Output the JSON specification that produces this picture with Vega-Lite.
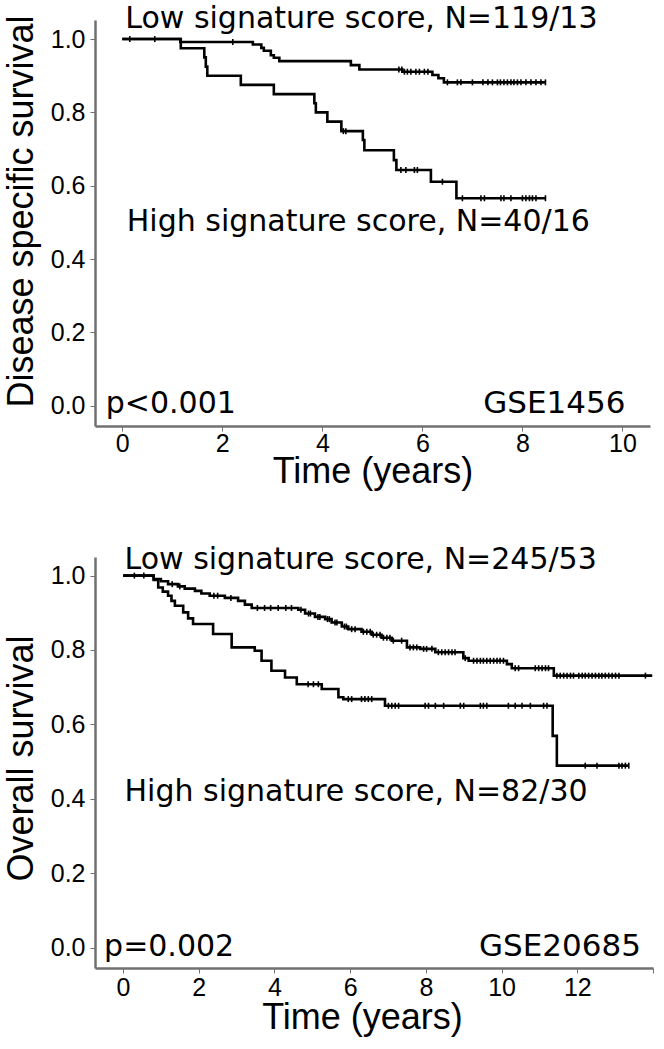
{
  "$schema": "https://vega.github.io/schema/vega-lite/v6.json",
  "background": "white",
  "padding": {"left": 3, "top": 4, "right": 5, "bottom": 5},
  "spacing": 56,
  "datasets": {
    "gse1456_curves": [
      {"group": "Low", "time": 0, "surv": 1.0},
      {"group": "Low", "time": 1.16, "surv": 0.992},
      {"group": "Low", "time": 2.61, "surv": 0.985},
      {"group": "Low", "time": 2.78, "surv": 0.976},
      {"group": "Low", "time": 2.83, "surv": 0.968},
      {"group": "Low", "time": 2.97, "surv": 0.956},
      {"group": "Low", "time": 3.03, "surv": 0.949},
      {"group": "Low", "time": 3.14, "surv": 0.94},
      {"group": "Low", "time": 4.57, "surv": 0.929},
      {"group": "Low", "time": 4.74, "surv": 0.917},
      {"group": "Low", "time": 5.6, "surv": 0.911},
      {"group": "Low", "time": 6.2, "surv": 0.902},
      {"group": "Low", "time": 6.32, "surv": 0.893},
      {"group": "Low", "time": 6.43, "surv": 0.882},
      {"group": "Low", "time": 8.46, "surv": 0.882},
      {"group": "High", "time": 0, "surv": 1.0},
      {"group": "High", "time": 1.17, "surv": 0.975},
      {"group": "High", "time": 1.64, "surv": 0.95},
      {"group": "High", "time": 1.67, "surv": 0.925},
      {"group": "High", "time": 1.7, "surv": 0.9},
      {"group": "High", "time": 2.37, "surv": 0.875},
      {"group": "High", "time": 3.03, "surv": 0.85},
      {"group": "High", "time": 3.84, "surv": 0.825},
      {"group": "High", "time": 3.87, "surv": 0.8},
      {"group": "High", "time": 4.1, "surv": 0.775},
      {"group": "High", "time": 4.38, "surv": 0.749},
      {"group": "High", "time": 4.81, "surv": 0.725},
      {"group": "High", "time": 4.84, "surv": 0.697},
      {"group": "High", "time": 5.43, "surv": 0.67},
      {"group": "High", "time": 5.48, "surv": 0.643},
      {"group": "High", "time": 6.17, "surv": 0.611},
      {"group": "High", "time": 6.68, "surv": 0.566},
      {"group": "High", "time": 8.46, "surv": 0.566}
    ],
    "gse1456_censored": [
      {"group": "Low", "time": 0.15, "surv": 1.0},
      {"group": "Low", "time": 0.65, "surv": 1.0},
      {"group": "Low", "time": 2.21, "surv": 0.992},
      {"group": "Low", "time": 5.53, "surv": 0.917},
      {"group": "Low", "time": 5.59, "surv": 0.917},
      {"group": "Low", "time": 5.64, "surv": 0.911},
      {"group": "Low", "time": 5.7, "surv": 0.911},
      {"group": "Low", "time": 5.77, "surv": 0.911},
      {"group": "Low", "time": 5.87, "surv": 0.911},
      {"group": "Low", "time": 5.94, "surv": 0.911},
      {"group": "Low", "time": 6.04, "surv": 0.911},
      {"group": "Low", "time": 6.11, "surv": 0.911},
      {"group": "Low", "time": 6.5, "surv": 0.882},
      {"group": "Low", "time": 6.7, "surv": 0.882},
      {"group": "Low", "time": 6.77, "surv": 0.882},
      {"group": "Low", "time": 7.0, "surv": 0.882},
      {"group": "Low", "time": 7.21, "surv": 0.882},
      {"group": "Low", "time": 7.31, "surv": 0.882},
      {"group": "Low", "time": 7.4, "surv": 0.882},
      {"group": "Low", "time": 7.5, "surv": 0.882},
      {"group": "Low", "time": 7.56, "surv": 0.882},
      {"group": "Low", "time": 7.63, "surv": 0.882},
      {"group": "Low", "time": 7.7, "surv": 0.882},
      {"group": "Low", "time": 7.77, "surv": 0.882},
      {"group": "Low", "time": 7.83, "surv": 0.882},
      {"group": "Low", "time": 7.9, "surv": 0.882},
      {"group": "Low", "time": 7.97, "surv": 0.882},
      {"group": "Low", "time": 8.07, "surv": 0.882},
      {"group": "Low", "time": 8.17, "surv": 0.882},
      {"group": "Low", "time": 8.27, "surv": 0.882},
      {"group": "Low", "time": 8.37, "surv": 0.882},
      {"group": "Low", "time": 8.46, "surv": 0.882},
      {"group": "High", "time": 4.42, "surv": 0.749},
      {"group": "High", "time": 4.47, "surv": 0.749},
      {"group": "High", "time": 5.57, "surv": 0.643},
      {"group": "High", "time": 5.67, "surv": 0.643},
      {"group": "High", "time": 5.84, "surv": 0.643},
      {"group": "High", "time": 5.9, "surv": 0.643},
      {"group": "High", "time": 6.4, "surv": 0.611},
      {"group": "High", "time": 6.8, "surv": 0.566},
      {"group": "High", "time": 7.17, "surv": 0.566},
      {"group": "High", "time": 7.24, "surv": 0.566},
      {"group": "High", "time": 7.57, "surv": 0.566},
      {"group": "High", "time": 7.63, "surv": 0.566},
      {"group": "High", "time": 7.77, "surv": 0.566},
      {"group": "High", "time": 8.0, "surv": 0.566},
      {"group": "High", "time": 8.07, "surv": 0.566},
      {"group": "High", "time": 8.14, "surv": 0.566},
      {"group": "High", "time": 8.2, "surv": 0.566},
      {"group": "High", "time": 8.27, "surv": 0.566},
      {"group": "High", "time": 8.46, "surv": 0.566}
    ],
    "gse20685_curves": [
      {"group": "Low", "time": 0, "surv": 1.0},
      {"group": "Low", "time": 0.81, "surv": 0.991},
      {"group": "Low", "time": 1.0, "surv": 0.985},
      {"group": "Low", "time": 1.19, "surv": 0.977},
      {"group": "Low", "time": 1.45, "surv": 0.971},
      {"group": "Low", "time": 1.63, "surv": 0.965},
      {"group": "Low", "time": 1.9, "surv": 0.959},
      {"group": "Low", "time": 2.07, "surv": 0.952},
      {"group": "Low", "time": 2.29, "surv": 0.946},
      {"group": "Low", "time": 2.69, "surv": 0.94},
      {"group": "Low", "time": 3.04, "surv": 0.932},
      {"group": "Low", "time": 3.22, "surv": 0.922},
      {"group": "Low", "time": 3.4, "surv": 0.913},
      {"group": "Low", "time": 4.63, "surv": 0.908},
      {"group": "Low", "time": 4.81, "surv": 0.898},
      {"group": "Low", "time": 5.07, "surv": 0.889},
      {"group": "Low", "time": 5.34, "surv": 0.883},
      {"group": "Low", "time": 5.51, "surv": 0.874},
      {"group": "Low", "time": 5.78, "surv": 0.863},
      {"group": "Low", "time": 5.95, "surv": 0.856},
      {"group": "Low", "time": 6.3, "surv": 0.849},
      {"group": "Low", "time": 6.57, "surv": 0.841},
      {"group": "Low", "time": 6.83, "surv": 0.833},
      {"group": "Low", "time": 7.1, "surv": 0.825},
      {"group": "Low", "time": 7.5, "surv": 0.807},
      {"group": "Low", "time": 7.85, "surv": 0.803},
      {"group": "Low", "time": 8.25, "surv": 0.794},
      {"group": "Low", "time": 8.99, "surv": 0.778},
      {"group": "Low", "time": 9.13, "surv": 0.771},
      {"group": "Low", "time": 10.14, "surv": 0.762},
      {"group": "Low", "time": 10.27, "surv": 0.751},
      {"group": "Low", "time": 11.38, "surv": 0.731},
      {"group": "Low", "time": 13.98, "surv": 0.731},
      {"group": "High", "time": 0, "surv": 1.0},
      {"group": "High", "time": 0.81, "surv": 0.988},
      {"group": "High", "time": 0.93, "surv": 0.968},
      {"group": "High", "time": 1.05, "surv": 0.957},
      {"group": "High", "time": 1.19, "surv": 0.946},
      {"group": "High", "time": 1.28, "surv": 0.932},
      {"group": "High", "time": 1.37, "surv": 0.919},
      {"group": "High", "time": 1.59, "surv": 0.901},
      {"group": "High", "time": 1.72, "surv": 0.885},
      {"group": "High", "time": 1.85, "surv": 0.87},
      {"group": "High", "time": 2.38, "surv": 0.843},
      {"group": "High", "time": 2.87, "surv": 0.807},
      {"group": "High", "time": 3.48, "surv": 0.798},
      {"group": "High", "time": 3.66, "surv": 0.771},
      {"group": "High", "time": 3.92, "surv": 0.744},
      {"group": "High", "time": 4.28, "surv": 0.726},
      {"group": "High", "time": 4.59, "surv": 0.708},
      {"group": "High", "time": 5.25, "surv": 0.695},
      {"group": "High", "time": 5.69, "surv": 0.673},
      {"group": "High", "time": 5.82, "surv": 0.668},
      {"group": "High", "time": 6.92, "surv": 0.65},
      {"group": "High", "time": 11.35, "surv": 0.569},
      {"group": "High", "time": 11.46, "surv": 0.489},
      {"group": "High", "time": 13.36, "surv": 0.489}
    ],
    "gse20685_censored": [
      {"group": "Low", "time": 0.3, "surv": 1.0},
      {"group": "Low", "time": 0.55, "surv": 1.0},
      {"group": "Low", "time": 1.3, "surv": 0.977},
      {"group": "Low", "time": 1.5, "surv": 0.971},
      {"group": "Low", "time": 2.4, "surv": 0.946},
      {"group": "Low", "time": 2.5, "surv": 0.946},
      {"group": "Low", "time": 2.85, "surv": 0.94},
      {"group": "Low", "time": 3.55, "surv": 0.913},
      {"group": "Low", "time": 3.74, "surv": 0.913},
      {"group": "Low", "time": 3.9, "surv": 0.913},
      {"group": "Low", "time": 4.1, "surv": 0.913},
      {"group": "Low", "time": 4.3, "surv": 0.913},
      {"group": "Low", "time": 4.45, "surv": 0.913},
      {"group": "Low", "time": 4.7, "surv": 0.908},
      {"group": "Low", "time": 4.9, "surv": 0.898},
      {"group": "Low", "time": 4.95, "surv": 0.898},
      {"group": "Low", "time": 5.15, "surv": 0.889},
      {"group": "Low", "time": 5.2, "surv": 0.889},
      {"group": "Low", "time": 5.4, "surv": 0.883},
      {"group": "Low", "time": 5.45, "surv": 0.883},
      {"group": "Low", "time": 5.6, "surv": 0.874},
      {"group": "Low", "time": 5.65, "surv": 0.874},
      {"group": "Low", "time": 5.85, "surv": 0.863},
      {"group": "Low", "time": 5.9, "surv": 0.863},
      {"group": "Low", "time": 6.04, "surv": 0.856},
      {"group": "Low", "time": 6.13, "surv": 0.856},
      {"group": "Low", "time": 6.35, "surv": 0.849},
      {"group": "Low", "time": 6.44, "surv": 0.849},
      {"group": "Low", "time": 6.53, "surv": 0.849},
      {"group": "Low", "time": 6.61, "surv": 0.841},
      {"group": "Low", "time": 6.7, "surv": 0.841},
      {"group": "Low", "time": 6.79, "surv": 0.841},
      {"group": "Low", "time": 6.88, "surv": 0.833},
      {"group": "Low", "time": 6.97, "surv": 0.833},
      {"group": "Low", "time": 7.05, "surv": 0.833},
      {"group": "Low", "time": 7.14, "surv": 0.825},
      {"group": "Low", "time": 7.36, "surv": 0.825},
      {"group": "Low", "time": 7.58, "surv": 0.807},
      {"group": "Low", "time": 7.67, "surv": 0.807},
      {"group": "Low", "time": 7.76, "surv": 0.807},
      {"group": "Low", "time": 7.94, "surv": 0.803},
      {"group": "Low", "time": 8.02, "surv": 0.803},
      {"group": "Low", "time": 8.16, "surv": 0.803},
      {"group": "Low", "time": 8.33, "surv": 0.794},
      {"group": "Low", "time": 8.42, "surv": 0.794},
      {"group": "Low", "time": 8.51, "surv": 0.794},
      {"group": "Low", "time": 8.6, "surv": 0.794},
      {"group": "Low", "time": 8.69, "surv": 0.794},
      {"group": "Low", "time": 8.77, "surv": 0.794},
      {"group": "Low", "time": 9.04, "surv": 0.778},
      {"group": "Low", "time": 9.26, "surv": 0.771},
      {"group": "Low", "time": 9.35, "surv": 0.771},
      {"group": "Low", "time": 9.44, "surv": 0.771},
      {"group": "Low", "time": 9.52, "surv": 0.771},
      {"group": "Low", "time": 9.61, "surv": 0.771},
      {"group": "Low", "time": 9.7, "surv": 0.771},
      {"group": "Low", "time": 9.79, "surv": 0.771},
      {"group": "Low", "time": 9.88, "surv": 0.771},
      {"group": "Low", "time": 9.96, "surv": 0.771},
      {"group": "Low", "time": 10.05, "surv": 0.771},
      {"group": "Low", "time": 10.36, "surv": 0.751},
      {"group": "Low", "time": 10.45, "surv": 0.751},
      {"group": "Low", "time": 10.89, "surv": 0.751},
      {"group": "Low", "time": 10.98, "surv": 0.751},
      {"group": "Low", "time": 11.07, "surv": 0.751},
      {"group": "Low", "time": 11.16, "surv": 0.751},
      {"group": "Low", "time": 11.24, "surv": 0.751},
      {"group": "Low", "time": 11.46, "surv": 0.731},
      {"group": "Low", "time": 11.55, "surv": 0.731},
      {"group": "Low", "time": 11.64, "surv": 0.731},
      {"group": "Low", "time": 11.73, "surv": 0.731},
      {"group": "Low", "time": 11.82, "surv": 0.731},
      {"group": "Low", "time": 11.9, "surv": 0.731},
      {"group": "Low", "time": 12.04, "surv": 0.731},
      {"group": "Low", "time": 12.13, "surv": 0.731},
      {"group": "Low", "time": 12.21, "surv": 0.731},
      {"group": "Low", "time": 12.3, "surv": 0.731},
      {"group": "Low", "time": 12.39, "surv": 0.731},
      {"group": "Low", "time": 12.48, "surv": 0.731},
      {"group": "Low", "time": 12.57, "surv": 0.731},
      {"group": "Low", "time": 12.65, "surv": 0.731},
      {"group": "Low", "time": 12.74, "surv": 0.731},
      {"group": "Low", "time": 12.83, "surv": 0.731},
      {"group": "Low", "time": 12.92, "surv": 0.731},
      {"group": "Low", "time": 13.01, "surv": 0.731},
      {"group": "Low", "time": 13.1, "surv": 0.731},
      {"group": "Low", "time": 13.8, "surv": 0.731},
      {"group": "High", "time": 4.89, "surv": 0.708},
      {"group": "High", "time": 5.03, "surv": 0.708},
      {"group": "High", "time": 5.16, "surv": 0.708},
      {"group": "High", "time": 5.95, "surv": 0.668},
      {"group": "High", "time": 6.04, "surv": 0.668},
      {"group": "High", "time": 6.3, "surv": 0.668},
      {"group": "High", "time": 6.39, "surv": 0.668},
      {"group": "High", "time": 6.48, "surv": 0.668},
      {"group": "High", "time": 6.57, "surv": 0.668},
      {"group": "High", "time": 7.01, "surv": 0.65},
      {"group": "High", "time": 7.1, "surv": 0.65},
      {"group": "High", "time": 7.19, "surv": 0.65},
      {"group": "High", "time": 7.28, "surv": 0.65},
      {"group": "High", "time": 7.98, "surv": 0.65},
      {"group": "High", "time": 8.07, "surv": 0.65},
      {"group": "High", "time": 8.25, "surv": 0.65},
      {"group": "High", "time": 8.47, "surv": 0.65},
      {"group": "High", "time": 8.91, "surv": 0.65},
      {"group": "High", "time": 9.0, "surv": 0.65},
      {"group": "High", "time": 9.44, "surv": 0.65},
      {"group": "High", "time": 9.52, "surv": 0.65},
      {"group": "High", "time": 9.61, "surv": 0.65},
      {"group": "High", "time": 10.18, "surv": 0.65},
      {"group": "High", "time": 10.36, "surv": 0.65},
      {"group": "High", "time": 10.54, "surv": 0.65},
      {"group": "High", "time": 10.76, "surv": 0.65},
      {"group": "High", "time": 11.11, "surv": 0.65},
      {"group": "High", "time": 11.2, "surv": 0.65},
      {"group": "High", "time": 12.21, "surv": 0.489},
      {"group": "High", "time": 12.52, "surv": 0.489},
      {"group": "High", "time": 13.1, "surv": 0.489},
      {"group": "High", "time": 13.18, "surv": 0.489},
      {"group": "High", "time": 13.27, "surv": 0.489},
      {"group": "High", "time": 13.36, "surv": 0.489}
    ]
  },
  "vconcat": [
    {
      "width": 555,
      "height": 406,
      "layer": [
        {"data": {"name": "gse1456_curves"},
         "mark": {"type": "line", "interpolate": "step-after", "color": "black", "strokeWidth": 2.6},
         "encoding": {
           "x": {"field": "time", "type": "quantitative", "title": "Time (years)",
             "scale": {"domain": [-0.545, 10.55], "nice": false, "zero": false},
             "axis": {"values": [0, 2, 4, 6, 8, 10], "labelPadding": 0, "titlePadding": -2}},
           "y": {"field": "surv", "type": "quantitative", "title": "Disease specific survival",
             "scale": {"domain": [-0.055, 1.052], "nice": false, "zero": false},
             "axis": {"values": [0, 0.2, 0.4, 0.6, 0.8, 1.0], "format": ".1f", "labelPadding": 5, "titlePadding": 10, "titleY": 191}},
           "detail": {"field": "group"}}},
        {"data": {"name": "gse1456_censored"},
         "mark": {"type": "point", "shape": "M0,-1L0,1", "size": 36, "color": "black", "strokeWidth": 1.6, "filled": false, "opacity": 1},
         "encoding": {
           "x": {"field": "time", "type": "quantitative", "title": "Time (years)"},
           "y": {"field": "surv", "type": "quantitative", "title": "Disease specific survival"}}},
        {"data": {"values": [{"label": "Low signature score, N=119/13"}]},
         "mark": {"type": "text", "align": "left", "baseline": "alphabetic", "font": "DejaVu Sans", "fontSize": 30, "color": "black"},
         "encoding": {"x": {"datum": 0.06, "title": "Time (years)"}, "y": {"datum": 1.03, "title": "Disease specific survival"}, "text": {"field": "label"}}},
        {"data": {"values": [{"label": "High signature score, N=40/16"}]},
         "mark": {"type": "text", "align": "left", "baseline": "alphabetic", "font": "DejaVu Sans", "fontSize": 30, "color": "black"},
         "encoding": {"x": {"datum": 0.09, "title": "Time (years)"}, "y": {"datum": 0.476, "title": "Disease specific survival"}, "text": {"field": "label"}}},
        {"data": {"values": [{"label": "p<0.001"}]},
         "mark": {"type": "text", "align": "left", "baseline": "alphabetic", "font": "DejaVu Sans", "fontSize": 30, "color": "black"},
         "encoding": {"x": {"datum": -0.33, "title": "Time (years)"}, "y": {"datum": -0.02, "title": "Disease specific survival"}, "text": {"field": "label"}}},
        {"data": {"values": [{"label": "GSE1456"}]},
         "mark": {"type": "text", "align": "right", "baseline": "alphabetic", "font": "DejaVu Sans", "fontSize": 31, "color": "black"},
         "encoding": {"x": {"datum": 10.06, "title": "Time (years)"}, "y": {"datum": -0.02, "title": "Disease specific survival"}, "text": {"field": "label"}}}
      ]
    },
    {
      "width": 558,
      "height": 411,
      "layer": [
        {"data": {"name": "gse20685_curves"},
         "mark": {"type": "line", "interpolate": "step-after", "color": "black", "strokeWidth": 2.6},
         "encoding": {
           "x": {"field": "time", "type": "quantitative", "title": "Time (years)",
             "scale": {"domain": [-0.74, 14.0], "nice": false, "zero": false},
             "axis": {"values": [0, 2, 4, 6, 8, 10, 12, 14], "labelExpr": "datum.value == 14 ? '' : datum.label", "labelPadding": 2, "titlePadding": 0, "titleX": 267}},
           "y": {"field": "surv", "type": "quantitative", "title": "Overall survival",
             "scale": {"domain": [-0.055, 1.05], "nice": false, "zero": false},
             "axis": {"values": [0, 0.2, 0.4, 0.6, 0.8, 1.0], "format": ".1f", "labelPadding": 5, "titlePadding": 10, "titleY": 201}},
           "detail": {"field": "group"}}},
        {"data": {"name": "gse20685_censored"},
         "mark": {"type": "point", "shape": "M0,-1L0,1", "size": 36, "color": "black", "strokeWidth": 1.6, "filled": false, "opacity": 1},
         "encoding": {
           "x": {"field": "time", "type": "quantitative", "title": "Time (years)"},
           "y": {"field": "surv", "type": "quantitative", "title": "Overall survival"}}},
        {"data": {"values": [{"label": "Low signature score, N=245/53"}]},
         "mark": {"type": "text", "align": "left", "baseline": "alphabetic", "font": "DejaVu Sans", "fontSize": 30, "color": "black"},
         "encoding": {"x": {"datum": 0.04, "title": "Time (years)"}, "y": {"datum": 1.0175, "title": "Overall survival"}, "text": {"field": "label"}}},
        {"data": {"values": [{"label": "High signature score, N=82/30"}]},
         "mark": {"type": "text", "align": "left", "baseline": "alphabetic", "font": "DejaVu Sans", "fontSize": 30, "color": "black"},
         "encoding": {"x": {"datum": 0.04, "title": "Time (years)"}, "y": {"datum": 0.395, "title": "Overall survival"}, "text": {"field": "label"}}},
        {"data": {"values": [{"label": "p=0.002"}]},
         "mark": {"type": "text", "align": "left", "baseline": "alphabetic", "font": "DejaVu Sans", "fontSize": 30, "color": "black"},
         "encoding": {"x": {"datum": -0.5, "title": "Time (years)"}, "y": {"datum": -0.022, "title": "Overall survival"}, "text": {"field": "label"}}},
        {"data": {"values": [{"label": "GSE20685"}]},
         "mark": {"type": "text", "align": "right", "baseline": "alphabetic", "font": "DejaVu Sans", "fontSize": 31, "color": "black"},
         "encoding": {"x": {"datum": 13.68, "title": "Time (years)"}, "y": {"datum": -0.022, "title": "Overall survival"}, "text": {"field": "label"}}}
      ]
    }
  ],
  "config": {
    "view": {"stroke": null},
    "axis": {
      "grid": false,
      "domainColor": "#707070",
      "domainWidth": 2.5,
      "tickColor": "#707070",
      "tickSize": 5,
      "tickWidth": 1,
      "labelFont": "Liberation Sans",
      "labelFontSize": 25,
      "labelColor": "black",
      "labelFlush": false,
      "labelOverlap": false,
      "titleFont": "Liberation Sans",
      "titleFontSize": 36,
      "titleFontWeight": "normal",
      "titleColor": "black"
    }
  }
}
